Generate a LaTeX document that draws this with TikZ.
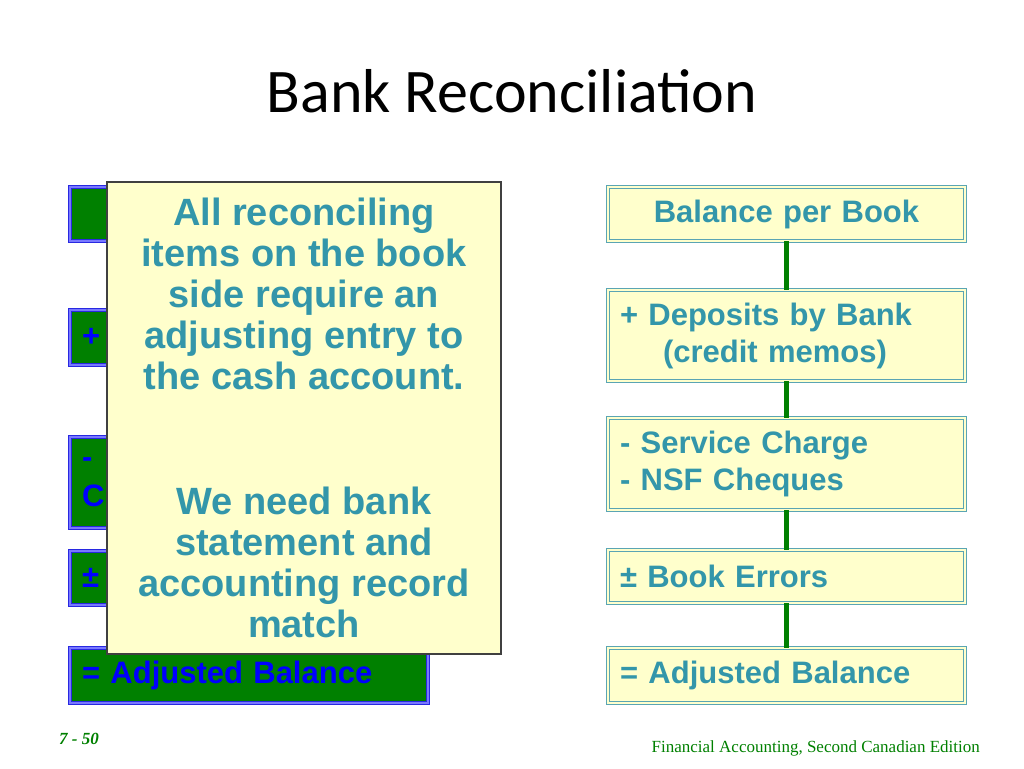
\documentclass[tikz,border=0pt]{standalone}
\usepackage{fontspec}
\setmainfont{Liberation Sans}
\newfontfamily\titlefont{Carlito}
\newfontfamily\footfont{Liberation Serif}
\definecolor{bookteal}{RGB}{51,150,170}
\definecolor{rimteal}{RGB}{90,165,180}
\definecolor{boxgreen}{RGB}{0,128,0}
\definecolor{notefill}{RGB}{255,255,204}
\definecolor{bankblue}{RGB}{0,0,255}
\definecolor{rimblue}{RGB}{40,40,225}
\definecolor{rimpale}{RGB}{120,120,255}
\tikzset{bank/.style={draw=rimblue,double=rimpale,line width=1pt,double distance=2pt,fill=boxgreen,text=bankblue,
  font=\bfseries\fontsize{31}{39}\selectfont,inner xsep=12pt,text width=334pt,align=left}}
\tikzset{book/.style={draw=rimteal,double=notefill,line width=.9pt,double distance=1.8pt,fill=notefill,text=bookteal,
  font=\bfseries\fontsize{31}{37}\selectfont,inner xsep=12pt,text width=333pt,align=left}}
\tikzset{link/.style={draw=boxgreen,line width=5pt}}

\begin{document}
\begin{tikzpicture}[x=1pt,y=-1pt]
  \useasboundingbox (0,0) rectangle (1024,768);
  \node[anchor=base,font=\titlefont\fontsize{62}{62}\selectfont] (title) at (512,112) {Bank Reconciliation};
  % bank side, mostly under the note
  \node[bank,minimum height=54pt] (B1) at (249,214) {};
  \node[bank,minimum height=55pt] (B2) at (249,337.5) {+};
  \node[bank,minimum height=91pt] (B3) at (249,482.5) {-\\C};
  \node[bank,minimum height=54pt] (B4) at (249,578) {\char"00B1};
  \node[bank,minimum height=55pt] (B5) at (249,675.5) {= Adjusted Balance};
  \node[draw={rgb,255:red,64;green,64;blue,64},line width=1.2pt,fill=notefill,text=bookteal,
    minimum width=394pt,minimum height=472pt,align=center,font=\bfseries\fontsize{38}{41}\selectfont] (note) at (304,418)
    {All reconciling\\items on the book\\side require an\\adjusting entry to\\the cash account.\\[84pt]We need bank\\statement and\\accounting record\\match};
  % book side
  \node[book,minimum height=54pt,align=center] (K1) at (786.5,214) {Balance per Book};
  \node[book,minimum height=91pt] (K2) at (786.5,335.5) {+ Deposits by Bank\\\hspace*{43pt}(credit memos)}
    edge[link] (K1);
  \node[book,minimum height=92pt] (K3) at (786.5,464) {- Service Charge\\- NSF Cheques}
    edge[link] (K2);
  \node[book,minimum height=53pt] (K4) at (786.5,576.5) {\char"00B1\ Book Errors}
    edge[link] (K3);
  \node[book,minimum height=55pt] (K5) at (786.5,675.5) {= Adjusted Balance}
    edge[link] (K4);
  \node[anchor=base west,inner sep=0pt,text=boxgreen,font=\footfont\bfseries\itshape\fontsize{17}{17}\selectfont] (page) at (59,744) {7 - 50};
  \node[anchor=base east,inner sep=0pt,text=boxgreen,font=\footfont\fontsize{17}{17}\selectfont] (edition) at (980,752) {Financial Accounting, Second Canadian Edition};
\end{tikzpicture}
\end{document}
